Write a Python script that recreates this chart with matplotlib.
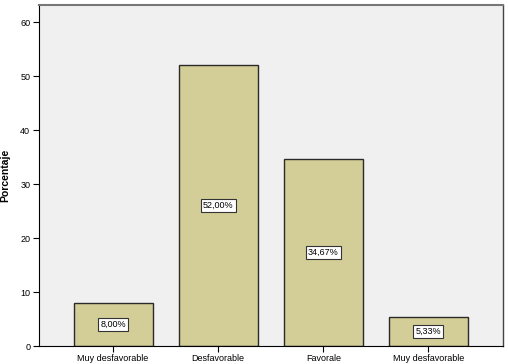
import numpy as np
import matplotlib
matplotlib.use('Agg')
import matplotlib.pyplot as plt

# data
categorias = ['Muy desfavorable', 'Desfavorable', 'Favorale', 'Muy desfavorable']
porcentaje = [8.00, 52.00, 34.67, 5.33]
etiquetas = ['8,00%', '52,00%', '34,67%', '5,33%']
yticks = [0, 10, 20, 30, 40, 50, 60]

plt.rcParams['font.family'] = ['Liberation Sans', 'DejaVu Sans']

fig = plt.figure(figsize=(5.08, 3.64), dpi=100)
ax = fig.add_axes([38.5/508, 1-346/364, (503-38.5)/508, (346-5)/364])
ax.set_facecolor('#f0f0f0')

x = np.arange(len(categorias))
ax.bar(x, porcentaje, width=0.75, color='#d3ce97', edgecolor='#2a2a2a', linewidth=1.0, zorder=2)

for xi, v, lab in zip(x, porcentaje, etiquetas):
    ax.text(xi, v/2, lab, ha='center', va='center', fontsize=6.5, zorder=3,
            bbox=dict(boxstyle='square,pad=0.25', fc='white', ec='#333333', lw=0.8))

ax.set_xlim(-0.71, 3.71)
ax.set_ylim(0, 63.15)
ax.set_xticks(x)
ax.set_xticklabels(categorias, fontsize=6.5)
ax.set_yticks(yticks)
ax.set_yticklabels([str(t) for t in yticks], fontsize=6.5)
ax.tick_params(axis='both', direction='out', length=4, width=0.8, pad=2)
ax.set_ylabel('Porcentaje', fontsize=7.5, fontweight='bold')
ax.yaxis.set_label_coords((10 - 38.5) / 464.5, 0.5)

ax.spines['top'].set_color('#777777')
ax.spines['top'].set_linewidth(1.5)
ax.spines['right'].set_color('#444444')
ax.spines['right'].set_linewidth(1.0)
ax.spines['left'].set_linewidth(0.8)
ax.spines['bottom'].set_linewidth(0.8)

fig.savefig('out.png', dpi=100)
